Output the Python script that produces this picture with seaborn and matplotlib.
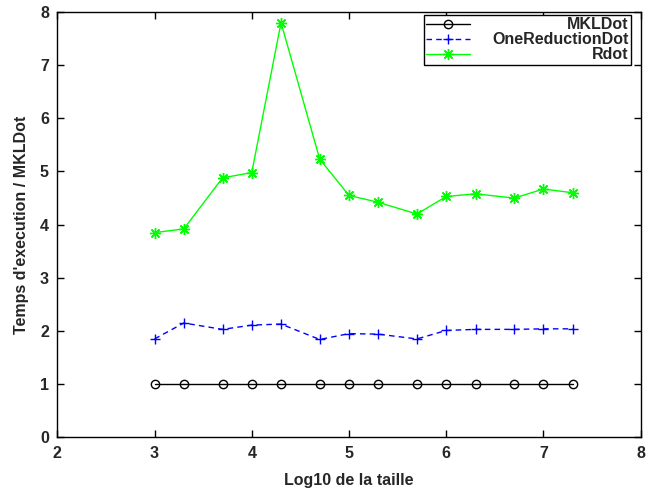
import matplotlib
matplotlib.use("Agg")
import matplotlib.pyplot as plt
import seaborn as sns

# log10 of the problem sizes (1e3, 2e3, 5e3, ... 2e7)
log_size = [3.0, 3.301, 3.699, 4.0, 4.301, 4.699, 5.0, 5.301, 5.699,
            6.0, 6.301, 6.699, 7.0, 7.301]

# execution time relative to MKLDot
mkldot = [1.0] * 14
one_reduction_dot = [1.85, 2.15, 2.03, 2.11, 2.13, 1.84, 1.95, 1.94, 1.85,
                     2.01, 2.03, 2.03, 2.04, 2.04]
rdot = [3.85, 3.92, 4.88, 4.98, 7.80, 5.23, 4.55, 4.42, 4.20,
        4.53, 4.58, 4.50, 4.67, 4.60]

x_ticks = [2, 3, 4, 5, 6, 7, 8]
y_ticks = [0, 1, 2, 3, 4, 5, 6, 7, 8]

FS = 11.5

sns.set_theme(style="ticks")
plt.rcParams["font.family"] = ["Liberation Sans", "DejaVu Sans"]
plt.rcParams["font.weight"] = "bold"

fig = plt.figure(figsize=(6.46, 4.92), dpi=100)
ax = fig.add_axes([0.0887, 0.1112, 0.9031, 0.8644])

sns.lineplot(x=log_size, y=mkldot, ax=ax, color="black", lw=1.0,
             marker="o", markersize=6, markerfacecolor="none",
             markeredgecolor="black", markeredgewidth=1.0, label="MKLDot")
sns.lineplot(x=log_size, y=one_reduction_dot, ax=ax, color="#0000ff", lw=1.0,
             linestyle=(0, (4, 3)), marker="+", markersize=7,
             markeredgecolor="#0000ff", markeredgewidth=1.0,
             label="OneReductionDot")
sns.lineplot(x=log_size, y=rdot, ax=ax, color="#00ff00", lw=1.0,
             marker=(8, 2, 0), markersize=8, markeredgecolor="#00ff00",
             markeredgewidth=1.0, label="Rdot")

ax.set_xlim(2, 8)
ax.set_ylim(0, 8)
ax.set_xticks(x_ticks)
ax.set_yticks(y_ticks)
ax.set_xticklabels([str(v) for v in x_ticks], fontsize=FS, fontweight="bold")
ax.set_yticklabels([str(v) for v in y_ticks], fontsize=FS, fontweight="bold")
ax.tick_params(direction="in", length=5, width=1, color="black",
               top=True, right=True, pad=6)
for sp in ax.spines.values():
    sp.set_visible(True)
    sp.set_color("black")
    sp.set_linewidth(1.0)

ax.set_xlabel("Log10 de la taille", fontsize=FS, fontweight="bold", labelpad=9)
ax.set_ylabel("Temps d'execution / MKLDot", fontsize=FS, fontweight="bold",
              labelpad=8)

leg = ax.legend(loc="upper right", bbox_to_anchor=(0.9834, 0.993),
                prop={"size": FS, "weight": "bold"}, handlelength=2.75,
                labelspacing=0.0, borderpad=0.15, handletextpad=1.4,
                fancybox=False, framealpha=1, borderaxespad=0)
leg.get_frame().set_edgecolor("black")
leg.get_frame().set_linewidth(1.0)

# right-align the legend labels
fig.canvas.draw()
widths = [t.get_window_extent().width for t in leg.get_texts()]
wmax = max(widths)
for t, w in zip(leg.get_texts(), widths):
    t.set_ha("right")
    t.set_position((wmax - w, 0))

fig.savefig("out.png", dpi=100)
